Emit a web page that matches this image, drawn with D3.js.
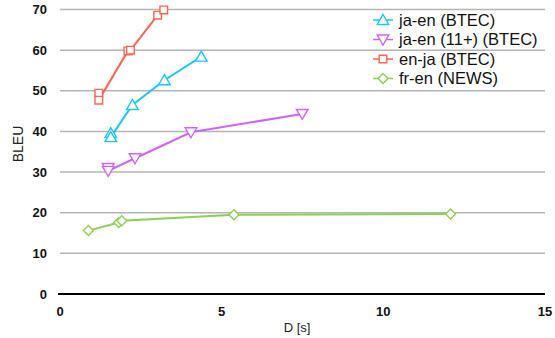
<!DOCTYPE html>
<html>
<head>
<meta charset="utf-8">
<script src="https://cdn.jsdelivr.net/npm/d3@7"></script>
<style>
  body { margin: 0; background: #fff; }
  svg { display: block; font-family: "Liberation Sans", Arial, Helvetica, sans-serif; }
  .grid line { stroke: #b4b4b4; stroke-width: 1.5; }
  .tick-label { font-size: 13px; font-weight: bold; fill: #111; }
</style>
</head>
<body>
<div id="chart"><svg width="555" height="338"></svg></div>
<script>
// series data: [D (s), BLEU]
const jaEnBtec = [[1.57, 39.6], [1.57, 38.6], [2.24, 46.5], [3.23, 52.6], [4.37, 58.4]];
const jaEn11Btec = [[1.49, 31.0], [1.49, 30.3], [2.32, 33.4], [4.05, 39.8], [7.49, 44.3]];
const enJaBtec = [[1.20, 49.4], [1.20, 47.7], [2.10, 59.8], [2.18, 60.0], [3.02, 68.6], [3.21, 69.9]];
const frEnNews = [[0.88, 15.6], [1.82, 17.6], [1.91, 18.0], [5.38, 19.5], [12.08, 19.7]];

const seriesNames = ["ja-en (BTEC)", "ja-en (11+) (BTEC)", "en-ja (BTEC)", "fr-en (NEWS)"];
const xTicks = [0, 5, 10, 15];
const yTicks = [0, 10, 20, 30, 40, 50, 60, 70];

const series = [
    { name: seriesNames[0], data: jaEnBtec, color: "#1cc6f4", marker: "up" },
    { name: seriesNames[1], data: jaEn11Btec, color: "#cf62fa", marker: "down" },
    { name: seriesNames[2], data: enJaBtec, color: "#fb6352", marker: "square" },
    { name: seriesNames[3], data: frEnNews, color: "#8ccf55", marker: "diamond" }
];

const svg = d3.select("#chart svg");

const xScale = d3.scaleLinear().domain([0, 15]).range([60, 545]);
const yScale = d3.scaleLinear().domain([0, 70]).range([294, 9.5]);

// marker shapes centred on 0,0
function markerPath(type) {
    if (type === "up") return "M0,-5.5 L5.8,4.5 L-5.8,4.5 Z";
    if (type === "down") return "M0,5.5 L5.8,-4.5 L-5.8,-4.5 Z";
    if (type === "square") return "M-3.8,-3.8 h7.6 v7.6 h-7.6 Z";
    return "M0,-5 L5,0 L0,5 L-5,0 Z";
}

// gridlines
const grid = svg.append("g").attr("class", "grid");
grid.selectAll("line")
    .data(yTicks.filter(function(d) { return d > 0; }))
    .enter()
    .append("line")
    .attr("x1", xScale(0))
    .attr("x2", xScale(15))
    .attr("y1", function(d) { return yScale(d); })
    .attr("y2", function(d) { return yScale(d); });

// zero line
svg.append("line")
    .attr("x1", xScale(0) - 2)
    .attr("x2", xScale(15))
    .attr("y1", yScale(0))
    .attr("y2", yScale(0))
    .attr("stroke", "#000")
    .attr("stroke-width", 2);

// tick labels
svg.append("g")
    .selectAll("text")
    .data(yTicks)
    .enter()
    .append("text")
    .attr("class", "tick-label")
    .attr("x", 47)
    .attr("y", function(d) { return yScale(d) + 4.5; })
    .attr("text-anchor", "end")
    .text(function(d) { return d; });

svg.append("g")
    .selectAll("text")
    .data(xTicks)
    .enter()
    .append("text")
    .attr("class", "tick-label")
    .attr("x", function(d) { return xScale(d); })
    .attr("y", 316)
    .attr("text-anchor", "middle")
    .text(function(d) { return d; });

// axis titles
svg.append("text")
    .attr("transform", "translate(23,144) rotate(-90)")
    .attr("text-anchor", "middle")
    .style("font-size", "14px")
    .attr("fill", "#222")
    .text("BLEU");

svg.append("text")
    .attr("x", 297)
    .attr("y", 332)
    .attr("text-anchor", "middle")
    .style("font-size", "13px")
    .attr("fill", "#222")
    .text("D [s]");

// lines and markers
const line = d3.line()
    .x(function(d) { return xScale(d[0]); })
    .y(function(d) { return yScale(d[1]); });

series.forEach(function(s) {
    svg.append("path")
        .datum(s.data)
        .attr("fill", "none")
        .attr("stroke", s.color)
        .attr("stroke-width", 2)
        .attr("d", line);
    svg.append("g")
        .selectAll("path")
        .data(s.data)
        .enter()
        .append("path")
        .attr("transform", function(d) { return "translate(" + xScale(d[0]) + "," + yScale(d[1]) + ")"; })
        .attr("d", markerPath(s.marker))
        .attr("fill", "#fff")
        .attr("stroke", s.color)
        .attr("stroke-width", 1.4);
});

// legend
const legend = svg.append("g").attr("transform", "translate(373,20)");
series.forEach(function(s, i) {
    const row = legend.append("g").attr("transform", "translate(0," + (i * 19.5) + ")");
    row.append("line")
        .attr("x1", 0).attr("x2", 20)
        .attr("stroke", s.color)
        .attr("stroke-width", 1.5);
    row.append("path")
        .attr("transform", "translate(10,0)")
        .attr("d", markerPath(s.marker))
        .attr("fill", "#fff")
        .attr("stroke", s.color)
        .attr("stroke-width", 1.4);
    row.append("text")
        .attr("x", 26)
        .attr("y", 5.5)
        .style("font-size", "16.5px")
        .attr("fill", "#111")
        .text(s.name);
});
</script>
</body>
</html>
